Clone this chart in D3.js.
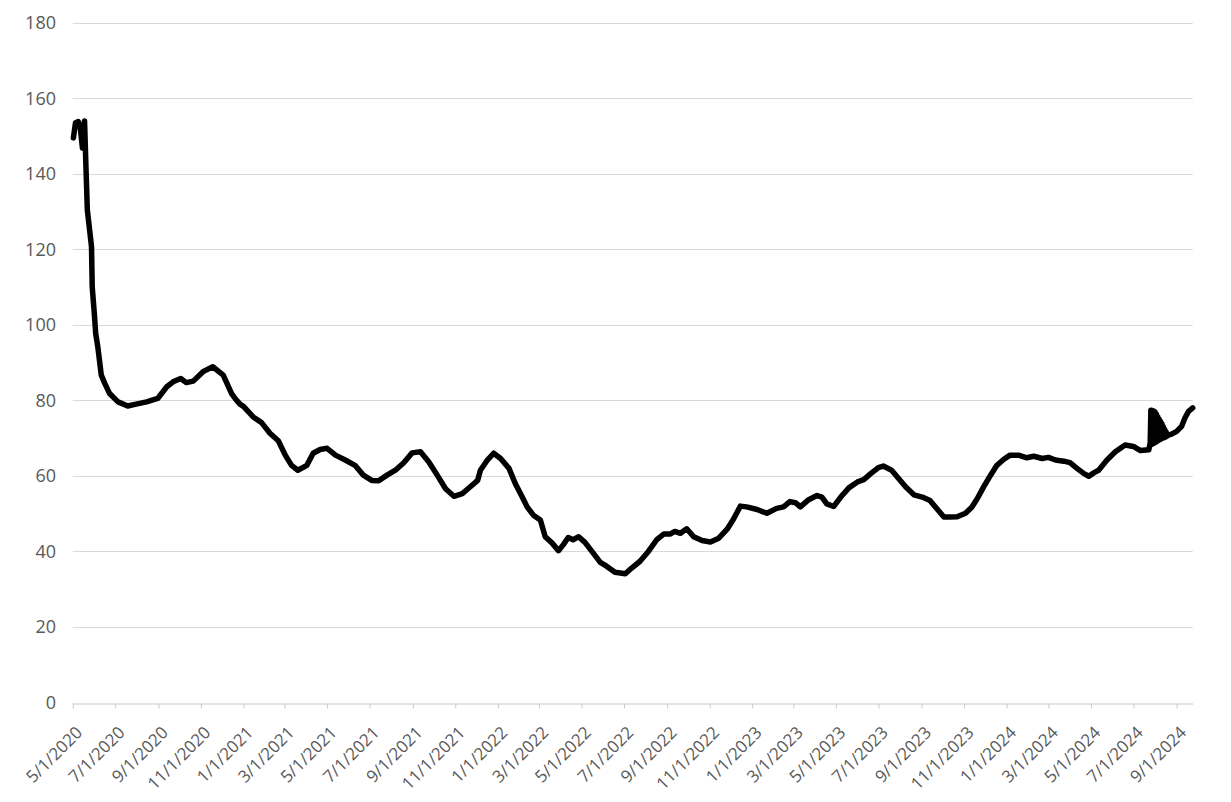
<!DOCTYPE html>
<html>
<head>
<meta charset="utf-8">
<script src="https://cdn.jsdelivr.net/npm/d3@7"></script>
<style>
    html, body { margin: 0; padding: 0; background: #ffffff; }
    svg { display: block; }
    .lbl { font-family: "Open Sans", "Liberation Sans", sans-serif; font-size: 18px; fill: #595959; }
    .xlbl { font-size: 17px; }
</style>
</head>
<body>
<svg id="chart"></svg>
<script>

// Series
var dates = [
    "2020-05-02", "2020-05-05", "2020-05-09", "2020-05-12", "2020-05-15", "2020-05-17", "2020-05-18", "2020-05-19",
    "2020-05-20", "2020-05-22", "2020-05-28", "2020-05-29", "2020-06-01", "2020-06-03", "2020-06-06", "2020-06-11",
    "2020-06-16", "2020-06-23", "2020-07-05", "2020-07-19", "2020-07-31", "2020-08-15", "2020-08-31", "2020-09-13",
    "2020-09-22", "2020-10-03", "2020-10-11", "2020-10-21", "2020-11-04", "2020-11-18", "2020-12-03", "2020-12-15",
    "2020-12-20", "2020-12-27", "2021-01-01", "2021-01-15", "2021-01-27", "2021-02-08", "2021-02-20", "2021-03-02",
    "2021-03-11", "2021-03-20", "2021-04-02", "2021-04-11", "2021-04-21", "2021-05-01", "2021-05-13", "2021-05-27",
    "2021-06-10", "2021-06-22", "2021-07-04", "2021-07-14", "2021-07-26", "2021-08-07", "2021-08-19", "2021-08-31",
    "2021-09-12", "2021-09-24", "2021-10-06", "2021-10-18", "2021-10-30", "2021-11-11", "2021-11-23", "2021-12-03",
    "2021-12-07", "2021-12-17", "2021-12-26", "2022-01-05", "2022-01-17", "2022-01-26", "2022-02-05", "2022-02-12",
    "2022-02-21", "2022-03-03", "2022-03-10", "2022-03-20", "2022-03-29", "2022-04-05", "2022-04-12", "2022-04-19",
    "2022-04-27", "2022-05-06", "2022-05-16", "2022-05-28", "2022-06-06", "2022-06-18", "2022-07-03", "2022-07-12",
    "2022-07-24", "2022-08-05", "2022-08-17", "2022-08-27", "2022-09-05", "2022-09-12", "2022-09-20", "2022-09-29",
    "2022-10-09", "2022-10-21", "2022-11-02", "2022-11-14", "2022-11-26", "2022-12-05", "2022-12-15", "2022-12-24",
    "2023-01-08", "2023-01-22", "2023-02-05", "2023-02-15", "2023-02-24", "2023-03-04", "2023-03-11", "2023-03-23",
    "2023-04-04", "2023-04-11", "2023-04-18", "2023-04-28", "2023-05-08", "2023-05-20", "2023-06-01", "2023-06-10",
    "2023-06-20", "2023-07-01", "2023-07-08", "2023-07-20", "2023-07-30", "2023-08-09", "2023-08-21", "2023-09-02",
    "2023-09-13", "2023-09-23", "2023-10-03", "2023-10-12", "2023-10-22", "2023-11-03", "2023-11-12", "2023-11-20",
    "2023-11-29", "2023-12-09", "2023-12-18", "2023-12-28", "2024-01-06", "2024-01-18", "2024-01-30", "2024-02-09",
    "2024-02-21", "2024-03-01", "2024-03-11", "2024-03-23", "2024-04-01", "2024-04-11", "2024-04-21", "2024-04-28",
    "2024-05-05", "2024-05-12", "2024-05-24", "2024-06-05", "2024-06-19", "2024-07-01", "2024-07-11", "2024-07-23",
    "2024-07-25", "2024-07-26", "2024-07-27", "2024-07-28", "2024-07-29", "2024-07-30", "2024-07-31", "2024-08-01",
    "2024-08-02", "2024-08-03", "2024-08-04", "2024-08-05", "2024-08-06", "2024-08-07", "2024-08-08", "2024-08-09",
    "2024-08-10", "2024-08-11", "2024-08-12", "2024-08-13", "2024-08-14", "2024-08-15", "2024-08-16", "2024-08-17",
    "2024-08-18", "2024-08-19", "2024-08-20", "2024-08-21", "2024-08-24", "2024-09-01", "2024-09-08", "2024-09-13",
    "2024-09-18", "2024-09-24"
];

var values = [
    149.5, 153.5, 153.8, 152.0, 146.8, 152.5, 154.0, 148.0,
    141.9, 130.4, 120.7, 110.1, 103.0, 97.7, 94.2, 86.7,
    84.5, 81.8, 79.6, 78.5, 79.0, 79.6, 80.5, 83.6,
    84.9, 85.8, 84.7, 85.1, 87.6, 88.9, 86.7, 81.8,
    80.5, 79.0, 78.4, 75.6, 74.1, 71.3, 69.3, 65.5,
    62.8, 61.5, 62.8, 66.0, 67.0, 67.3, 65.5, 64.2,
    62.8, 60.2, 58.8, 58.7, 60.2, 61.5, 63.5, 66.1,
    66.4, 63.7, 60.2, 56.6, 54.6, 55.3, 57.2, 58.8,
    61.5, 64.2, 66.0, 64.6, 62.0, 58.0, 54.4, 51.8,
    49.6, 48.3, 43.9, 42.2, 40.2, 41.8, 43.7, 43.1,
    43.9, 42.4, 40.0, 37.1, 36.1, 34.5, 34.1, 35.6,
    37.4, 40.0, 43.1, 44.6, 44.6, 45.3, 44.8, 46.0,
    43.9, 42.9, 42.5, 43.5, 45.9, 48.5, 52.0, 51.8,
    51.1, 50.1, 51.4, 51.8, 53.2, 52.9, 51.8, 53.7,
    54.8, 54.4, 52.6, 51.9, 54.4, 56.9, 58.4, 59.0,
    60.6, 62.2, 62.6, 61.5, 59.3, 57.1, 55.0, 54.4,
    53.5, 51.3, 49.1, 49.1, 49.2, 50.1, 51.7, 54.0,
    57.1, 60.2, 62.8, 64.4, 65.5, 65.5, 64.8, 65.2,
    64.6, 64.9, 64.2, 63.9, 63.5, 62.0, 60.6, 59.9,
    60.8, 61.5, 64.2, 66.4, 68.2, 67.8, 66.7, 66.9,
    68.7, 77.4, 68.3, 77.3, 68.5, 77.2, 68.7, 76.9,
    68.9, 76.3, 69.2, 75.6, 69.4, 75.0, 69.6, 74.4,
    69.8, 73.8, 70.0, 73.0, 70.1, 72.3, 70.3, 71.6,
    70.5, 71.1, 70.7, 70.9, 71.0, 71.8, 73.1, 75.4,
    77.1, 78.0
];

var yTicks = [0, 20, 40, 60, 80, 100, 120, 140, 160, 180];
var xStart = "2020-05-01";
var xEnd = "2024-09-24";

var options = {
    width: 1231,
    height: 802,
    left: 72.7,
    right: 1192.7,
    top: 22.7,
    bottom: 702.5,
    gridColor: "#d9d9d9",
    axisColor: "#c8c8c8",
    lineWidth: 5.5
};

function drawChart(id, options)
{
    var parse = d3.timeParse("%Y-%m-%d");
    var points = dates.map(function(d, i) { return { date: parse(d), value: values[i] }; });

    var svg = d3.select("#" + id)
        .attr("width", options.width)
        .attr("height", options.height);

    var x = d3.scaleTime()
        .domain([parse(xStart), parse(xEnd)])
        .range([options.left, options.right]);

    var y = d3.scaleLinear()
        .domain([0, 180])
        .range([options.bottom, options.top]);

    // Gridlines
    svg.append("g")
        .selectAll("line")
        .data(yTicks.filter(function(t) { return t > 0; }))
        .enter()
        .append("line")
        .attr("x1", options.left)
        .attr("x2", options.right)
        .attr("y1", function(t) { return Math.round(y(t)) + 0.5; })
        .attr("y2", function(t) { return Math.round(y(t)) + 0.5; })
        .style("stroke", options.gridColor)
        .style("stroke-width", 1);

    // Y axis labels
    svg.append("g")
        .selectAll("text")
        .data(yTicks)
        .enter()
        .append("text")
        .attr("class", "lbl")
        .attr("x", 56)
        .attr("y", function(t) { return y(t); })
        .attr("dy", "0.35em")
        .attr("text-anchor", "end")
        .text(function(t) { return t; });

    // X axis
    var xAxis = d3.axisBottom(x)
        .ticks(d3.timeMonth.every(2))
        .tickFormat(d3.timeFormat("%-m/%-d/%Y"))
        .tickSize(5)
        .tickSizeOuter(0);

    var axisG = svg.append("g")
        .attr("transform", "translate(0," + (Math.round(options.bottom) + 0.5) + ")")
        .call(xAxis)
        .attr("font-size", null)
        .attr("font-family", null);

    axisG.select(".domain").style("stroke", options.axisColor);
    axisG.selectAll(".tick line").style("stroke", options.axisColor);
    axisG.selectAll(".tick text")
        .attr("class", "lbl xlbl")
        .attr("fill", null)
        .attr("text-anchor", "end")
        .attr("x", 0)
        .attr("y", 0)
        .attr("dy", "0.35em")
        .attr("transform", "translate(6,26) rotate(-45)");

    // Series
    var line = d3.line()
        .x(function(d) { return x(d.date); })
        .y(function(d) { return y(d.value); });

    svg.append("path")
        .datum(points)
        .attr("d", line)
        .attr("fill", "none")
        .attr("stroke", "#000000")
        .attr("stroke-width", options.lineWidth)
        .attr("stroke-linejoin", "round")
        .attr("stroke-linecap", "round");
}

drawChart("chart", options);

</script>
</body>
</html>
